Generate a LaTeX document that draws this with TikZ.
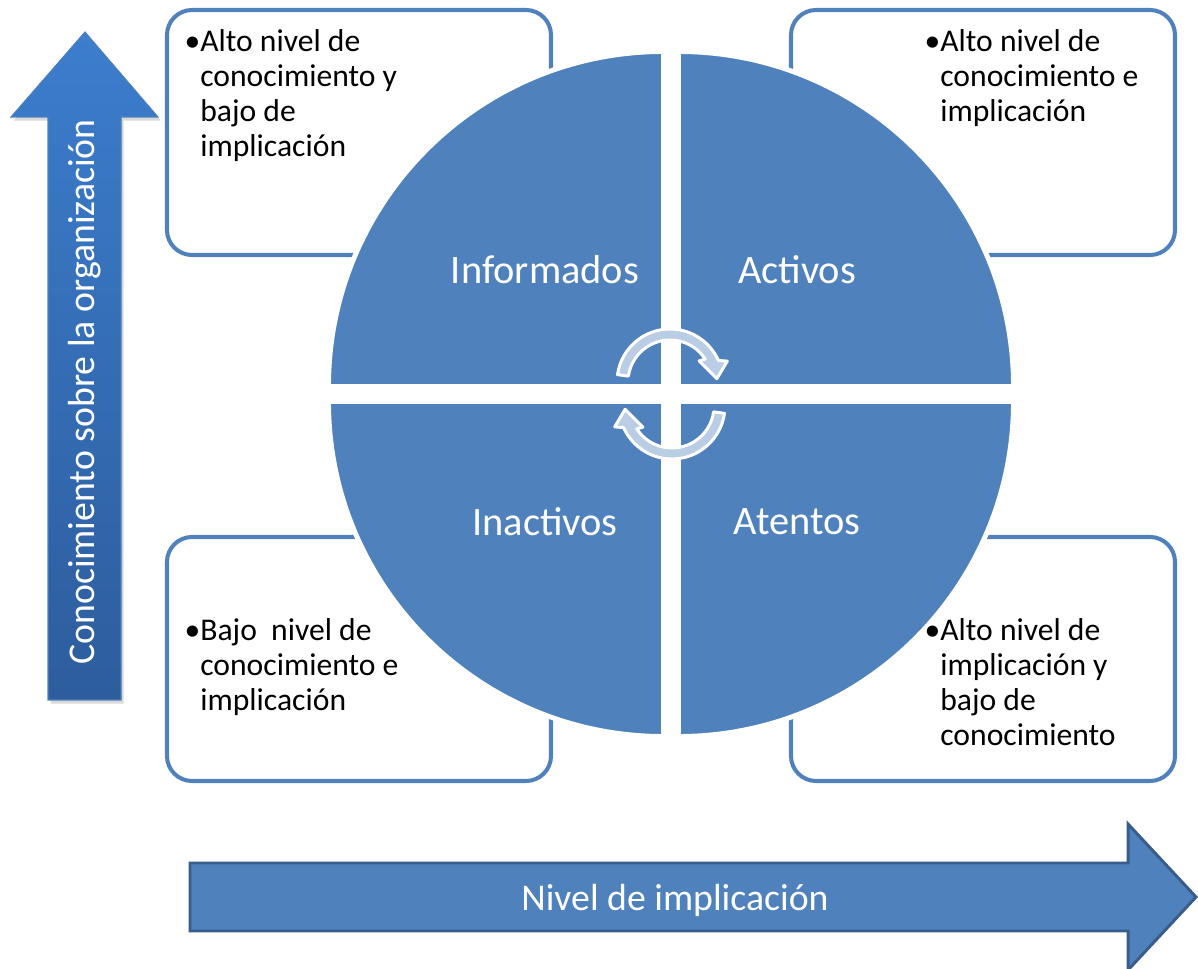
\documentclass[tikz,border=0pt]{standalone}
\usepackage{fontspec}
\setmainfont{Carlito}
\usetikzlibrary{calc,shadows}
\definecolor{cuadro}{RGB}{79,129,189}
\definecolor{borde}{RGB}{56,93,138}
\definecolor{ciclo}{RGB}{185,205,229}
\definecolor{ejearriba}{RGB}{60,125,205}
\definecolor{ejeabajo}{RGB}{45,93,157}
\newcommand{\textonota}{\fontsize{18}{19.8}\selectfont}
\newcommand{\textogrande}{\fontsize{21.5}{24}\selectfont}
\newcommand{\textocuarto}{\fontsize{23}{26}\selectfont}
\newcommand{\punto}{\llap{•}}

\begin{document}
\begin{tikzpicture}[x=0.02cm, y=0.02cm,
    caja/.style={draw=cuadro, line width=2.3pt, fill=white, rounded corners=0.5cm},
    cuarto/.style={fill=cuadro, draw=white, line width=2.8pt},
    nota/.style={anchor=base west, inner sep=0pt, font=\textonota, text=black},
    rotulo/.style={font=\textogrande, text=white, inner sep=0pt},
    flecha/.style={fill=ciclo, draw=white, line width=1.7pt, line join=round}]

	\useasboundingbox (0,0) rectangle (1198,-969);

	% cuadros de texto
	\draw[caja] (167,-10) rectangle (551,-255);
	\draw[caja] (791,-10) rectangle (1175,-255);
	\draw[caja] (167,-537) rectangle (551,-781);
	\draw[caja] (791,-537) rectangle (1175,-781);

	% circulo en cuatro partes
	\coordinate (centro) at (671,-394);
	\filldraw[cuarto] ($(centro)+(-7.5,7.5)$) -- ++(180:335) arc (180:90:335) -- cycle;
	\filldraw[cuarto] ($(centro)+(7.5,7.5)$) -- ++(90:335) arc (90:0:335) -- cycle;
	\filldraw[cuarto] ($(centro)+(-7.5,-7.5)$) -- ++(270:335) arc (270:180:335) -- cycle;
	\filldraw[cuarto] ($(centro)+(7.5,-7.5)$) -- ++(0:335) arc (0:-90:335) -- cycle;

	\node[rotulo, font=\textocuarto] (informados) at (545,-270) {Informados};
	\node[rotulo, font=\textocuarto] (activos) at (797,-270) {Activos};
	\node[rotulo, font=\textocuarto] (inactivos) at (545,-522) {Inactivos};
	\node[rotulo, font=\textocuarto] (atentos) at (797,-522) {Atentos};

	% flechas del ciclo
	\coordinate (c1) at (670,-382);
	\coordinate (c2) at (672,-406);
	\filldraw[flecha] ($(c1)+(172:53)$) arc (172:24:53) -- ($(c1)+(20:61)$) -- ($(c1)+(4:47)$)
		-- ($(c1)+(36:36)$) -- ($(c1)+(33:42)$) arc (33:172:42) -- cycle;
	\filldraw[flecha] ($(c2)+(352:53)$) arc (352:204:53) -- ($(c2)+(200:61)$) -- ($(c2)+(184:47)$)
		-- ($(c2)+(216:36)$) -- ($(c2)+(213:42)$) arc (213:352:42) -- cycle;

	% textos de los cuadros
	\node[nota] (nota-io) at (200,-52) {\begin{tabular}[t]{@{}l@{}}\punto Alto nivel de\\conocimiento y\\bajo de\\implicación\end{tabular}};
	\node[nota] (nota-ac) at (940,-52) {\begin{tabular}[t]{@{}l@{}}\punto Alto nivel de\\conocimiento e\\implicación\end{tabular}};
	\node[nota] (nota-in) at (200,-641) {\begin{tabular}[t]{@{}l@{}}\punto Bajo\ \ nivel de\\conocimiento e\\implicación\end{tabular}};
	\node[nota] (nota-at) at (940,-641) {\begin{tabular}[t]{@{}l@{}}\punto Alto nivel de\\implicación y\\bajo de\\conocimiento\end{tabular}};

	% eje vertical
	\fill[top color=ejearriba, bottom color=ejeabajo, draw=cuadro, line width=0.6pt,
		drop shadow={opacity=0.3, shadow xshift=1.5pt, shadow yshift=-2pt}]
		(48,-700) -- (48,-117) -- (11,-117) -- (85,-32) -- (158,-117) -- (121,-117) -- (121,-700) -- cycle;
	\node[rotulo, rotate=90] (conocimiento) at (85,-392) {Conocimiento sobre la organización};

	% eje horizontal
	\filldraw[fill=cuadro, draw=borde, line width=1.7pt, line join=miter]
		(190,-863) -- (1128,-863) -- (1128,-824) -- (1196,-897) -- (1128,-970) -- (1128,-931) -- (190,-931) -- cycle;
	\node[rotulo] (implicacion) at (675,-900) {Nivel de implicación};

\end{tikzpicture}
\end{document}
